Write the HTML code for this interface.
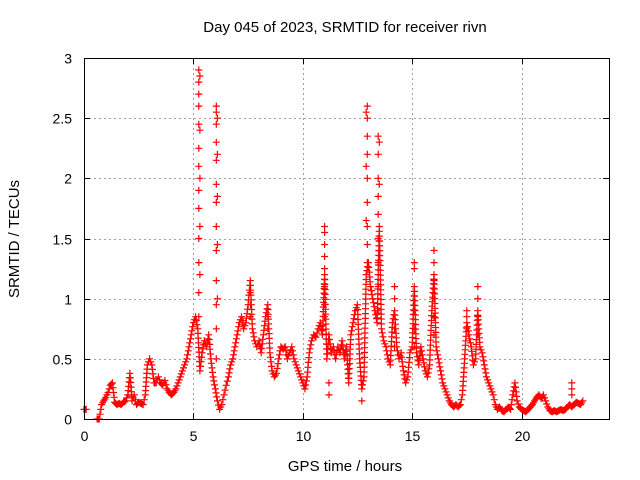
<!DOCTYPE html>
<html><head><meta charset="utf-8"><style>
body{margin:0;background:#fff}
svg{display:block;font-family:"Liberation Sans",sans-serif}
</style></head><body>
<svg id="chart" width="640" height="480" viewBox="0 0 640 480">
<text x="345" y="32" font-size="15" text-anchor="middle">Day 045 of 2023, SRMTID for receiver rivn</text>
<text transform="translate(19,239) rotate(-90)" font-size="15" text-anchor="middle">SRMTID / TECUs</text>
<text x="345" y="471" font-size="15" text-anchor="middle">GPS time / hours</text>
<g id="grid"></g>
<g id="axes"></g>
<g id="marks"></g>
<rect x="84.5" y="58.5" width="525" height="361" fill="none" stroke="#000" stroke-width="1"/>
</svg>
<script>
const xTicks=[0,5,10,15,20];
const yTicks=[0,0.5,1,1.5,2,2.5,3];
const yTickLabels=["0","0.5","1","1.5","2","2.5","3"];
const baseTimes=[0,0.1,0.6,0.7,0.8,0.9,1.0,1.1,1.2,1.3,1.4,1.5,1.6,1.7,1.8,1.9,2.0,2.1,2.2,2.3,2.4,2.5,2.6,2.7,2.8,2.9,3.0,3.1,3.2,3.3,3.4,3.5,3.6,3.7,3.8,3.9,4.0,4.1,4.2,4.3,4.4,4.5,4.6,4.7,4.8,4.9,5.0,5.1,5.2,5.3,5.4,5.5,5.6,5.7,5.8,5.9,6.0,6.1,6.2,6.3,6.4,6.5,6.6,6.7,6.8,6.9,7.0,7.1,7.2,7.3,7.4,7.5,7.6,7.7,7.8,7.9,8.0,8.1,8.2,8.3,8.4,8.5,8.6,8.7,8.8,8.9,9.0,9.1,9.2,9.3,9.4,9.5,9.6,9.7,9.8,9.9,10.0,10.1,10.2,10.3,10.4,10.5,10.6,10.7,10.8,10.9,11.0,11.1,11.2,11.3,11.4,11.5,11.6,11.7,11.8,11.9,12.0,12.1,12.2,12.3,12.4,12.5,12.6,12.7,12.8,12.9,13.0,13.1,13.2,13.3,13.4,13.5,13.6,13.7,13.8,13.9,14.0,14.1,14.2,14.3,14.4,14.5,14.6,14.7,14.8,14.9,15.0,15.1,15.2,15.3,15.4,15.5,15.6,15.7,15.8,15.9,16.0,16.1,16.2,16.3,16.4,16.5,16.6,16.7,16.8,16.9,17.0,17.1,17.2,17.3,17.4,17.5,17.6,17.7,17.8,17.9,18.0,18.1,18.2,18.3,18.4,18.5,18.6,18.7,18.8,18.9,19.0,19.1,19.2,19.3,19.4,19.5,19.6,19.7,19.8,19.9,20.0,20.1,20.2,20.3,20.4,20.5,20.6,20.7,20.8,20.9,21.0,21.1,21.2,21.3,21.4,21.5,21.6,21.7,21.8,21.9,22.0,22.1,22.2,22.3,22.4,22.5,22.6,22.7,22.8];
const baseValues=[.08,.08,0,0,.12,.15,.18,.22,.28,.3,.14,.12,.13,.12,.14,.15,.2,.38,.15,.2,.12,.14,.13,.12,.2,.45,.5,.45,.3,.3,.35,.3,.28,.32,.25,.22,.2,.22,.25,.3,.35,.4,.45,.5,.6,.7,.8,.85,.75,.4,.55,.65,.6,.7,.5,.35,.25,.15,.08,.12,.2,.28,.35,.45,.5,.6,.7,.8,.85,.75,.8,.95,1.15,.75,.65,.6,.65,.55,.7,.85,.95,.55,.4,.35,.38,.5,.6,.58,.6,.5,.55,.6,.5,.45,.4,.35,.3,.25,.35,.55,.65,.7,.68,.75,.8,.7,1.2,.5,.7,.55,.6,.5,.6,.55,.65,.5,.6,.3,.7,.8,.9,.95,.5,.25,.35,1.2,1.3,1.1,1.0,.9,.8,1.6,.75,.65,.6,.5,.45,.8,.9,.6,.5,.55,.4,.3,.35,.55,.6,1.1,.55,.45,.6,.5,.4,.35,.45,.9,1.2,.6,.5,.4,.3,.25,.2,.15,.12,.1,.12,.1,.12,.2,.5,.8,.7,.6,.45,.5,.9,.6,.55,.45,.35,.3,.25,.2,.12,.08,.1,.07,.06,.08,.1,.08,.2,.3,.15,.1,.08,.07,.06,.08,.1,.12,.15,.18,.2,.17,.2,.15,.1,.07,.06,.07,.06,.07,.08,.07,.08,.1,.12,.1,.12,.14,.13,.12,.15];
const spikeTimes=[5.25,5.25,5.25,5.25,5.25,5.25,5.25,5.25,5.25,5.25,5.25,5.25,5.25,5.3,5.3,5.3,5.3,5.3,
6.05,6.05,6.05,6.05,6.05,6.05,6.05,6.05,6.05,6.05,6.05,6.05,6.05,6.1,6.1,6.1,6.1,6.1,
7.6,7.6,7.6,7.6,8.4,8.4,8.4,11.0,11.0,11.0,11.0,11.0,11.0,11.0,11.0,
12.95,12.95,12.95,12.95,12.95,12.95,12.95,12.95,12.95,12.9,12.9,12.9,
13.45,13.45,13.45,13.45,13.45,13.45,13.45,13.45,13.45,13.5,13.5,13.5,
14.2,14.2,14.2,14.2,14.2,15.1,15.1,15.1,15.1,15.1,15.1,16.0,16.0,16.0,16.0,16.0,16.0,
17.5,17.5,17.5,18.0,18.0,18.0,18.0,22.3,22.3,22.3,11.2,11.2,12.7,12.7];
const spikeValues=[2.9,2.8,2.7,2.6,2.45,2.25,2.1,1.9,1.75,1.5,1.3,1.05,0.85,2.85,2.4,2.0,1.6,1.2,
2.6,2.55,2.45,2.3,2.15,1.95,1.8,1.6,1.4,1.15,0.95,0.75,0.5,2.5,2.2,1.85,1.45,1.0,
1.15,1.05,0.95,0.85,0.95,0.85,0.75,1.6,1.55,1.45,1.35,1.25,1.1,0.95,0.85,
2.6,2.5,2.35,2.2,2.0,1.8,1.6,1.45,1.3,2.55,2.1,1.65,
2.35,2.2,2.0,1.85,1.7,1.5,1.3,1.1,0.9,2.3,1.95,1.6,
1.1,1.0,0.9,0.75,0.6,1.3,1.25,1.1,0.9,0.75,0.6,1.4,1.3,1.15,1.0,0.85,0.7,
0.9,0.85,0.75,1.1,1.0,0.85,0.7,0.3,0.25,0.2,0.2,0.3,0.15,0.25];

const NS='http://www.w3.org/2000/svg';
const X0=84,X1=609,Y0=419,Y1=58;
const xScale=t=>X0+(t/24)*(X1-X0);
const yScale=v=>Y0-(v/3)*(Y0-Y1);
const grid=document.getElementById('grid'),axes=document.getElementById('axes'),marks=document.getElementById('marks');
function mk(tag,attrs,parent){const e=document.createElementNS(NS,tag);for(const k in attrs)e.setAttribute(k,attrs[k]);parent.appendChild(e);return e;}
xTicks.forEach(t=>{
  const x=Math.round(xScale(t))+0.5;
  if(t>0){const g=mk('line',{x1:x,x2:x,y1:Y1,y2:Y0,stroke:'#a0a0a0','stroke-dasharray':'2,3'},grid);
  
  }
  const tk=mk('path',{d:`M${x},${Y0}v-6M${x},${Y1}v6`,stroke:'#000'},axes);
  
  
  const lb=mk('text',{x:x,y:Y0+22,'font-size':14,'text-anchor':'middle'},axes);
  lb.textContent=String(t);
  
  
});
yTicks.forEach((v,i)=>{
  const y=Math.round(yScale(v))+0.5;
  if(v>0&&v<3){const g=mk('line',{x1:X0,x2:X1,y1:y,y2:y,stroke:'#a0a0a0','stroke-dasharray':'2,3'},grid);
  
  }
  const tk=mk('path',{d:`M${X0},${y}h6M${X1},${y}h-6`,stroke:'#000'},axes);
  
  
  const lb=mk('text',{x:X0-12,y:y+5,'font-size':14,'text-anchor':'end'},axes);
  lb.textContent=yTickLabels[i];
  
  
});
let d='';
function plus(x,y){d+=`M${(x-3.5).toFixed(1)},${y.toFixed(1)}h7M${x.toFixed(1)},${(y-3.5).toFixed(1)}v7`;}
for(let i=0;i<baseTimes.length;i++){
  const x=xScale(baseTimes[i]),y=yScale(baseValues[i]);plus(x,y);
  if(i+1<baseTimes.length&&baseTimes[i+1]-baseTimes[i]<0.15){
    const x2=xScale(baseTimes[i+1]),y2=yScale(baseValues[i+1]);
    const n=Math.max(2,Math.ceil(Math.abs(y2-y)/5));
    for(let k=1;k<n;k++){plus(x+(x2-x)*k/n,y+(y2-y)*k/n);}
  }
}
for(let i=0;i<spikeTimes.length;i++){plus(xScale(spikeTimes[i]),yScale(spikeValues[i]));}
const p=mk('path',{d:d,stroke:'#ff0000','stroke-width':1.2,fill:'none'},marks);


</script>
</body></html>
